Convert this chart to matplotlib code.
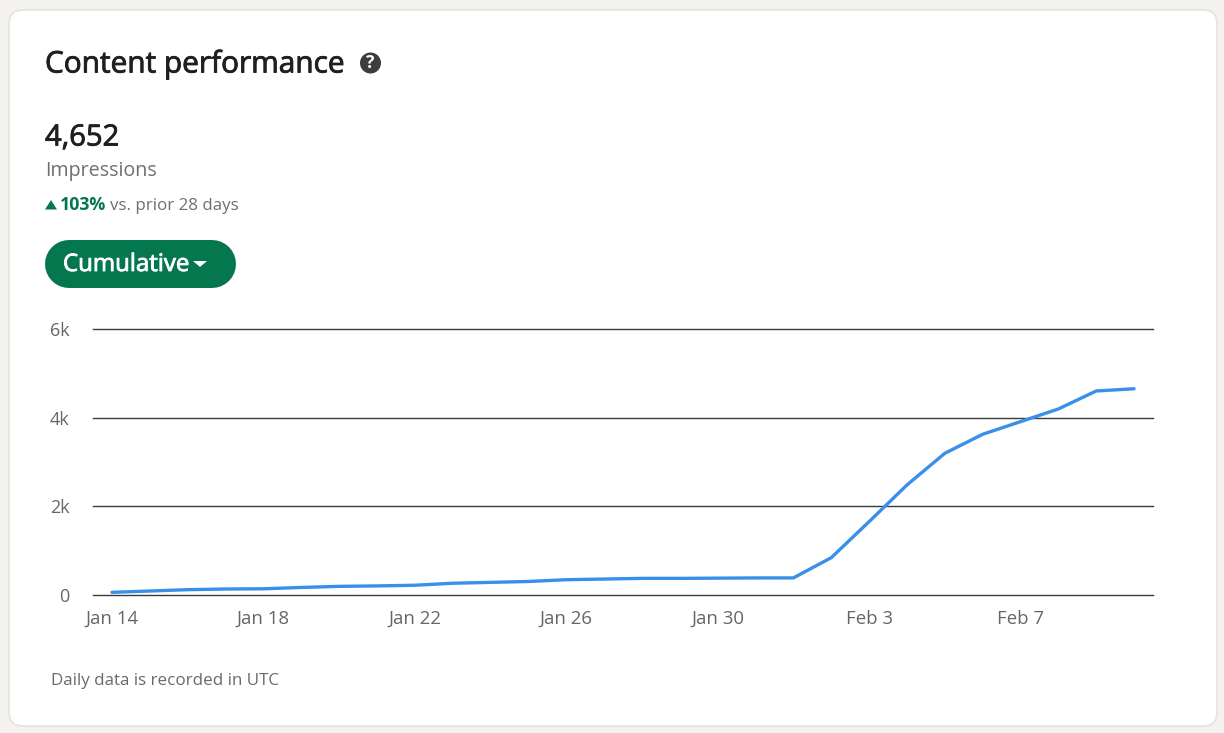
# content performance card
import matplotlib
matplotlib.use("Agg")
import matplotlib.pyplot as plt
import matplotlib.patheffects as pe
from matplotlib.patches import FancyBboxPatch, Circle, Polygon
import numpy as np

plt.rcParams["font.family"] = ["Open Sans", "DejaVu Sans"]

# cumulative impressions per day, Jan 14 -> Feb 10
impressions = [60, 90, 120, 135, 140, 170, 195, 205, 220, 265, 285, 305, 345, 360,
               375, 375, 380, 385, 385, 841, 1654, 2481, 3196, 3625, 3910, 4196,
               4602, 4652]
tick_days = [0, 4, 8, 12, 16, 20, 24]
tick_names = ["Jan 14", "Jan 18", "Jan 22", "Jan 26", "Jan 30", "Feb 3", "Feb 7"]
y_ticks = [0, 2000, 4000, 6000]
y_names = ["0", "2k", "4k", "6k"]

W, H = 1224, 733
GREEN = "#04774f"
fig = plt.figure(figsize=(W / 100, H / 100), dpi=100, facecolor="#f3f2ee")

# page layer in pixel coords, y pointing down
bg = fig.add_axes([0, 0, 1, 1])
bg.set_xlim(0, W)
bg.set_ylim(H, 0)
bg.axis("off")

# the font has no medium weight here, so thicken it a little
def medium(color):
    return [pe.withStroke(linewidth=0.6, foreground=color)]

bg.add_patch(FancyBboxPatch((9, 10), 1208, 716, boxstyle="round,pad=0,rounding_size=14",
                            fc="white", ec="#e4e3df", lw=1.2))
bg.text(45, 65, "Content performance", fontsize=21.45, color="#1f1f1f", va="center", ha="left",
        path_effects=medium("#1f1f1f"))
bg.add_patch(Circle((370.5, 63), 10.5, fc="#3d3d3d", ec="none"))
bg.text(370.5, 63, "?", fontsize=12.5, fontweight="bold", color="white", va="center", ha="center")
bg.text(45, 138, "4,652", fontsize=21, color="#1f1f1f", va="center", ha="left",
        path_effects=medium("#1f1f1f"))
bg.text(45, 171, "Impressions", fontsize=14.2, color="#6f6f6f", va="center", ha="left")
bg.add_patch(Polygon([[45, 209.5], [57, 209.5], [51, 200]], fc=GREEN, ec="none"))
bg.text(60, 205.5, "103%", fontsize=12.8, fontweight="bold", color=GREEN, va="center", ha="left")
bg.text(110, 206, "vs. prior 28 days", fontsize=12.2, color="#6f6f6f", va="center", ha="left")

# dropdown button, a thick round-capped line makes a true pill
bg.plot([69, 212], [264, 264], color=GREEN, lw=48 * 0.72, solid_capstyle="round")
bg.text(63, 265, "Cumulative", fontsize=17.3, color="white", va="center", ha="left",
        path_effects=medium("white"))
bg.add_patch(Polygon([[193, 261], [207, 261], [200, 267]], fc="white", ec="none", zorder=5))

bg.text(51, 681, "Daily data is recorded in UTC", fontsize=12.25, color="#6a6a6a", va="center", ha="left")

# chart
left, right, top, bottom = 93, 1153, 329, 595
ax = fig.add_axes([left / W, 1 - bottom / H, (right - left) / W, (bottom - top) / H])
ax.patch.set_alpha(0)
days = np.arange(len(impressions))
ax.plot(days, impressions, color="#3a90e8", lw=2.4, solid_capstyle="round", zorder=3)
ax.set_xlim(-0.5, 27.5)
ax.set_ylim(0, 6000)
ax.set_xticks(tick_days)
ax.set_xticklabels(tick_names)
ax.set_yticks(y_ticks)
ax.set_yticklabels(y_names)
ax.tick_params(length=0, labelcolor="#666666")
ax.tick_params(axis="x", pad=11, labelsize=13.4)
ax.tick_params(axis="y", pad=17, labelsize=13)
ax.grid(True, axis="y", color="#3a3a3a", lw=1.0, zorder=1)
for s in ax.spines.values():
    s.set_visible(False)
for gl in ax.get_ygridlines():
    gl.set_clip_on(False)

fig.savefig("out.png", dpi=100, facecolor=fig.get_facecolor())
